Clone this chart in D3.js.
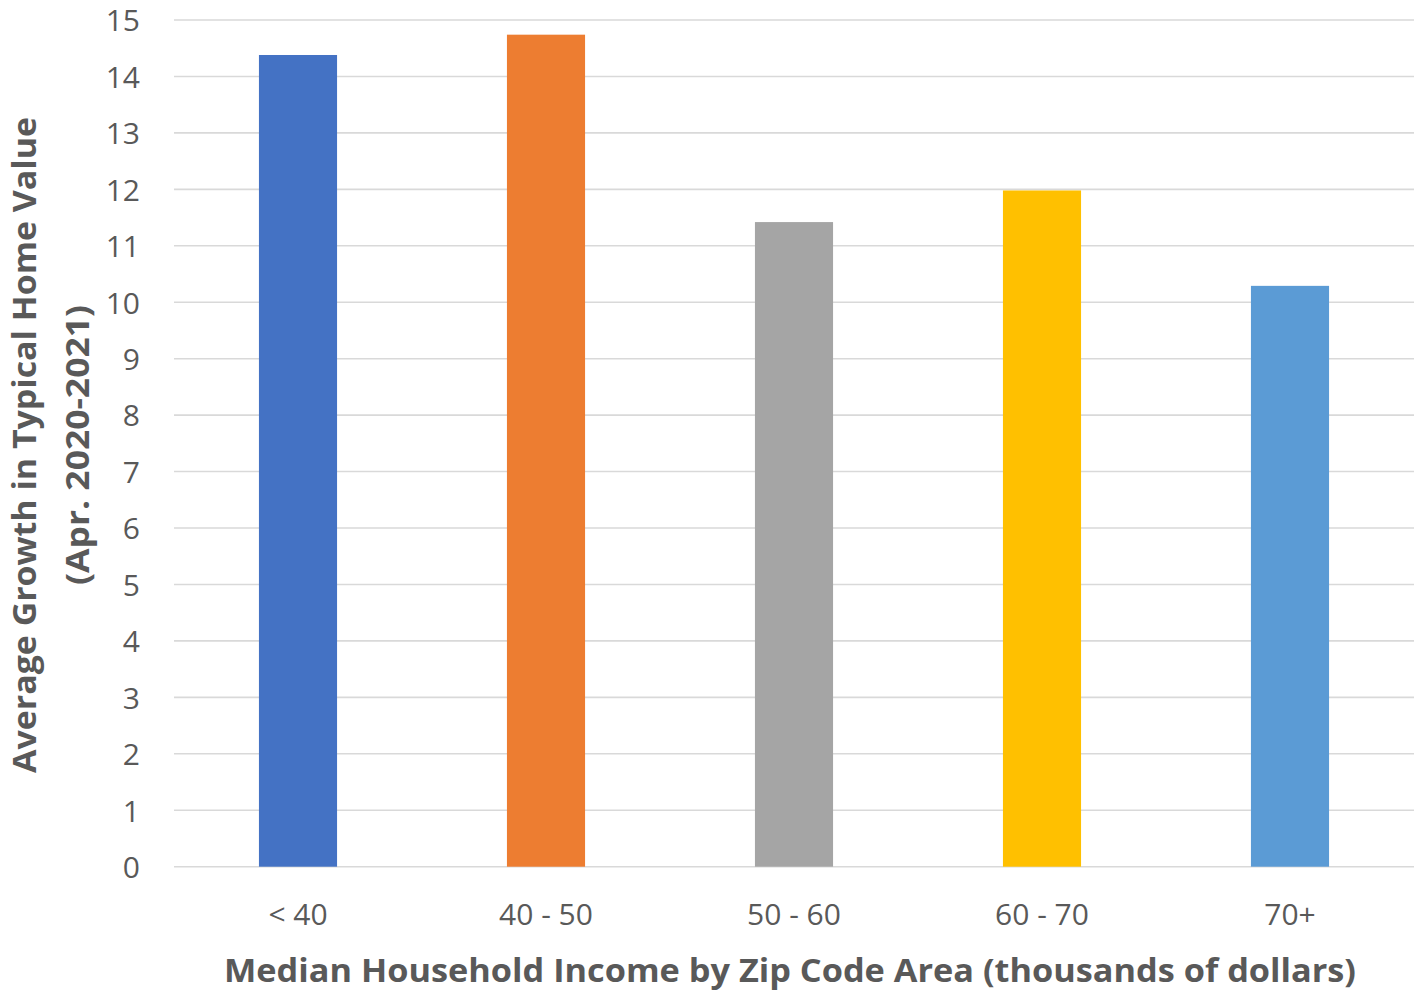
<!DOCTYPE html>
<html>
<head>
<meta charset="utf-8">
<script src="https://cdn.jsdelivr.net/npm/d3@7"></script>
<style>
  html, body { margin: 0; padding: 0; background: #ffffff; }
  svg { display: block; }
  text { font-family: "Open Sans", "Liberation Sans", sans-serif; fill: #595959; }
</style>
</head>
<body>
<svg id="chart" width="1417" height="995"></svg>
<script>
// Income brackets (thousands of dollars) and average home value growth
const categories = ["< 40", "40 - 50", "50 - 60", "60 - 70", "70+"];
const growth = [14.38, 14.74, 11.42, 11.98, 10.29];
const barColors = ["#4472c4", "#ed7d31", "#a5a5a5", "#ffc000", "#5b9bd5"];
const yTicks = [0, 1, 2, 3, 4, 5, 6, 7, 8, 9, 10, 11, 12, 13, 14, 15];

const xTitle = "Median Household Income by Zip Code Area (thousands of dollars)";
const yTitleLines = ["Average Growth in Typical Home Value", "(Apr. 2020-2021)"];

const svg = d3.select("#chart");
const plot = { left: 174, right: 1414, top: 20, bottom: 866.7 };

const x = d3.scaleBand()
  .domain(categories)
  .range([plot.left, plot.right])
  .paddingInner(0.685)
  .paddingOuter(0.3425);

const y = d3.scaleLinear()
  .domain([0, 15])
  .range([plot.bottom, plot.top]);

// Horizontal gridlines
svg.append("g")
  .selectAll("line")
  .data(yTicks)
  .join("line")
  .attr("x1", plot.left)
  .attr("x2", plot.right)
  .attr("y1", d => y(d))
  .attr("y2", d => y(d))
  .attr("stroke", "#d9d9d9")
  .attr("stroke-width", 1.6);

// Bars
svg.append("g")
  .selectAll("rect")
  .data(categories)
  .join("rect")
  .attr("x", d => x(d))
  .attr("width", x.bandwidth())
  .attr("y", (d, i) => y(growth[i]))
  .attr("height", (d, i) => y(0) - y(growth[i]))
  .attr("fill", (d, i) => barColors[i]);

// Y axis tick labels
const yAxis = d3.axisLeft(y).tickValues(yTicks).tickSize(0).tickPadding(0).tickFormat(d3.format("d"));
const yg = svg.append("g")
  .attr("transform", `translate(140,0)`)
  .call(yAxis);
yg.select(".domain").remove();
yg.selectAll("text")
  .attr("font-size", 30)
  .attr("dy", "0.36em")
  .style("font-family", "'Open Sans', sans-serif")
  .attr("fill", "#595959");

// X axis category labels
const xAxis = d3.axisBottom(x).tickSize(0).tickPadding(0);
const xg = svg.append("g")
  .attr("transform", `translate(0,${plot.bottom})`)
  .call(xAxis);
xg.select(".domain").remove();
xg.selectAll("text")
  .attr("font-size", 30)
  .attr("y", 58)
  .attr("dy", 0)
  .style("font-family", "'Open Sans', sans-serif")
  .attr("fill", "#595959");

// Axis titles
const xt = svg.append("text")
  .attr("x", 790)
  .attr("y", 982)
  .attr("text-anchor", "middle")
  .attr("font-size", 33)
  .attr("font-weight", 700)
  .text(xTitle);
xt.attr("textLength", 1132).attr("lengthAdjust", "spacingAndGlyphs");

const yLineX = [36, 89];
const yLineLen = [656, 280];
yTitleLines.forEach((line, i) => {
  svg.append("text")
    .attr("transform", `translate(${yLineX[i]},445) rotate(-90)`)
    .attr("text-anchor", "middle")
    .attr("font-size", 33)
    .attr("font-weight", 700)
    .attr("textLength", yLineLen[i])
    .attr("lengthAdjust", "spacingAndGlyphs")
    .text(line);
});
</script>
</body>
</html>
